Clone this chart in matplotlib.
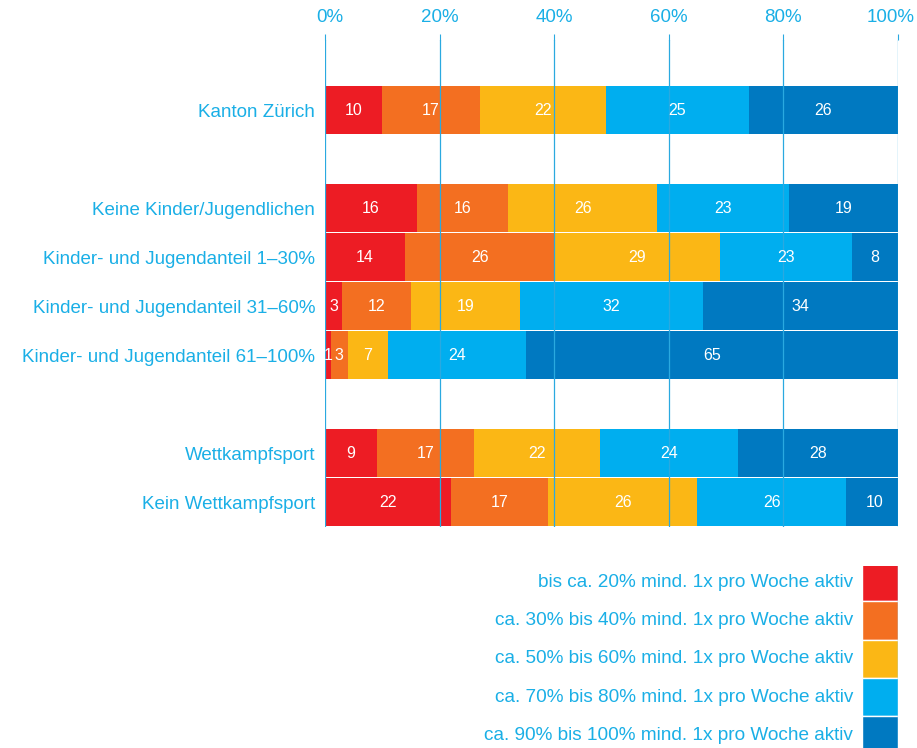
import numpy as np
import matplotlib
matplotlib.use("Agg")
import matplotlib.pyplot as plt
from matplotlib.transforms import ScaledTranslation

plt.rcParams['font.family'] = ['Liberation Sans', 'DejaVu Sans']

# data
groups = ["Kanton Zürich", "",
          "Keine Kinder/Jugendlichen",
          "Kinder- und Jugendanteil 1–30%",
          "Kinder- und Jugendanteil 31–60%",
          "Kinder- und Jugendanteil 61–100%", "",
          "Wettkampfsport",
          "Kein Wettkampfsport"]
s1 = [10, 0, 16, 14, 3, 1, 0, 9, 22]
s2 = [17, 0, 16, 26, 12, 3, 0, 17, 17]
s3 = [22, 0, 26, 29, 19, 7, 0, 22, 26]
s4 = [25, 0, 23, 23, 32, 24, 0, 24, 26]
s5 = [26, 0, 19, 8, 34, 65, 0, 28, 10]
series_labels = ["bis ca. 20% mind. 1x pro Woche aktiv",
                 "ca. 30% bis 40% mind. 1x pro Woche aktiv",
                 "ca. 50% bis 60% mind. 1x pro Woche aktiv",
                 "ca. 70% bis 80% mind. 1x pro Woche aktiv",
                 "ca. 90% bis 100% mind. 1x pro Woche aktiv"]
ticks = [0, 20, 40, 60, 80, 100]

colors = ["#ED1C24", "#F36F21", "#FBB715", "#00AEEF", "#0079C1"]
txt = "#1AAFE6"
grid_c = "#2AA9E0"

fig = plt.figure(figsize=(9.17, 7.48), dpi=100)
ax = fig.add_axes([325 / 917, 1 - 527 / 748, 573 / 917, 487 / 748])

y = np.arange(len(groups))
left = np.zeros(len(groups))
for vals, c in zip([s1, s2, s3, s4, s5], colors):
    vals = np.array(vals, dtype=float)
    ax.barh(y, vals, left=left, height=0.97, color=c, zorder=1)
    for yi, v, l in zip(y, vals, left):
        if v > 0:
            ax.text(l + v / 2, yi, f"{int(v)}", ha="center", va="center",
                    color="white", fontsize=11.5, zorder=4)
    left += vals

for t in ticks:
    ax.axvline(t, color=grid_c, lw=0.9, zorder=3)

ax.set_xlim(0, 100)
ax.set_ylim(8.51, -1.43)
ax.set_yticks(y)
ax.set_yticklabels(groups, color=txt, fontsize=13.5)
ax.tick_params(axis="y", length=0, pad=7)
ax.xaxis.tick_top()
ax.set_xticks(ticks)
ax.set_xticklabels([f"{t}%" for t in ticks], color=txt, fontsize=13.5)
ax.tick_params(axis="x", length=4, color=grid_c, pad=6)
# nudge first and last tick labels inwards like the original
xl = ax.get_xticklabels()
xl[0].set_transform(xl[0].get_transform() + ScaledTranslation(5 / 100, 0, fig.dpi_scale_trans))
xl[-1].set_transform(xl[-1].get_transform() + ScaledTranslation(-7 / 100, 0, fig.dpi_scale_trans))
for s in ax.spines.values():
    s.set_visible(False)

# legend as its own small axes
lax = fig.add_axes([862 / 917, 0, 36 / 917, 182 / 748])
ly = np.arange(len(series_labels))
lax.barh(ly, [1] * len(ly), height=1, color=colors, edgecolor="white", lw=1)
lax.axvline(1, color=grid_c, lw=0.9)
lax.set_xlim(0, 1)
lax.set_ylim(4.33, -0.42)
lax.axis("off")
for yi, lab in zip(ly, series_labels):
    lax.text(-0.25, yi, lab, ha="right", va="center", color=txt, fontsize=13.7,
             transform=lax.transData)

fig.savefig("out.png", dpi=100)
